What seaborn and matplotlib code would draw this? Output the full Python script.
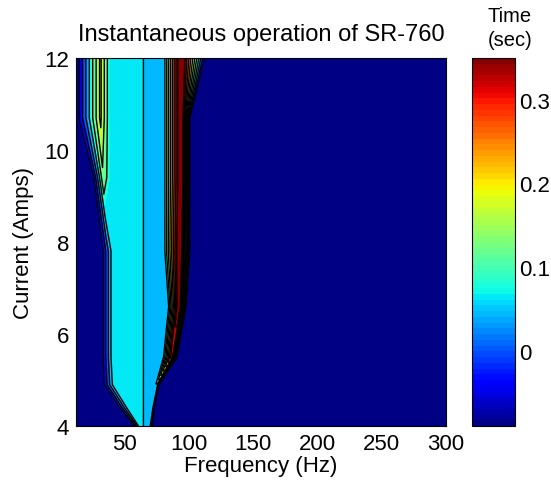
import numpy as np
import matplotlib
matplotlib.use("Agg")
import matplotlib.pyplot as plt
import seaborn as sns

sns.set_style("white")
plt.rcParams['font.family'] = ['Liberation Sans', 'DejaVu Sans']
plt.rcParams['text.color'] = 'black'
plt.rcParams['axes.labelcolor'] = 'black'
plt.rcParams['xtick.color'] = 'black'
plt.rcParams['ytick.color'] = 'black'

# Current levels (rows of the measurement grid)
current = np.array([4.0, 4.4, 4.9, 5.5, 6.6, 7.8, 9.4, 10.7, 12.0])

# Frequencies (Hz) where the response changes, for each current level
f_blue_end = np.array([57, 45, 33, 32, 32, 32, 25, 13, 13])
f_left_peak = np.array([59, 48.5, 37, 36, 36, 36, 33, 31, 31])
f_cyan_start = np.array([61, 52, 41, 40, 40, 40, 38.5, 38, 38])
f_step_lo = np.full(9, 63.0)
f_step_hi = np.full(9, 65.0)
f_rise_start = np.array([66, 69, 72, 80, 84, 81, 81, 81, 81])
f_peak_lo = np.array([67.5, 70.5, 74, 86, 91, 91, 92, 92, 92])
f_peak_hi = np.array([69, 71.5, 75, 87, 93, 94, 95, 95, 96])
f_blue_start = np.array([72, 73, 77, 91, 98, 101, 101, 101, 113])
f_min, f_max = 12.0, 300.0

# Operating times (sec)
t_min = -0.09
t_cyan = 0.064
t_light = 0.045
t_left_peak = np.array([-0.013, -0.013, -0.013, -0.013, -0.013, -0.013, 0.12, 0.18, 0.18])
t_right_peak = np.array([0.045, 0.045, 0.045, 0.3, 0.35, 0.35, 0.35, 0.35, 0.35])

n = len(current)
X = np.column_stack([np.full(n, f_min), f_blue_end, f_left_peak, f_cyan_start,
                     f_step_lo, f_step_hi, f_rise_start, f_peak_lo, f_peak_hi,
                     f_blue_start, np.full(n, f_max)])
Z = np.column_stack([np.full(n, t_min), np.full(n, t_min), t_left_peak,
                     np.full(n, t_cyan), np.full(n, t_cyan), np.full(n, t_light),
                     np.full(n, t_light), t_right_peak, t_right_peak,
                     np.full(n, t_min), np.full(n, t_min)])
Y = np.repeat(current[:, None], X.shape[1], axis=1)

fig = plt.figure(figsize=(5.51, 4.85), dpi=100)
ax = fig.add_axes([76 / 551, 58 / 485, 370 / 551, 368 / 485])
cax = fig.add_axes([472 / 551, 58 / 485, 43 / 551, 368 / 485])

# filled surface (jet, 64 colours) + black contour lines
fill_levels = np.linspace(-0.09, 0.35, 65)
cs = ax.contourf(X, Y, Z, levels=fill_levels, cmap='jet')
cs.set_edgecolor('face')
cs.set_linewidth(0.3)
line_levels = np.arange(-0.07, 0.35, 0.04)
ax.contour(X, Y, Z, levels=line_levels, colors='k', linewidths=1.0,
           linestyles='solid', negative_linestyles='solid')

ax.set_xlim(f_min, f_max)
ax.set_ylim(4, 12)
ax.set_xticks([50, 100, 150, 200, 250, 300])
ax.set_yticks([4, 6, 8, 10, 12])
ax.tick_params(direction='in', length=4, labelsize=16, colors='black', pad=5)
for s in ax.spines.values():
    s.set_color('black')
    s.set_linewidth(0.8)

ax.set_title("Instantaneous operation of SR-760", fontsize=17, pad=13, color='black')
ax.set_xlabel("Frequency (Hz)", fontsize=16, labelpad=1)
ax.set_ylabel("Current (Amps)", fontsize=16, labelpad=7)

cb = fig.colorbar(cs, cax=cax, ticks=[0, 0.1, 0.2, 0.3], format='%g')
cb.outline.set_edgecolor('black')
cb.outline.set_linewidth(0.8)
cax.tick_params(direction='in', length=4, labelsize=16, pad=3, colors='black')
fig.text(510 / 551, 1 - 16 / 485, "Time", ha='center', va='center', fontsize=14.5)
fig.text(510 / 551, 1 - 40 / 485, "(sec)", ha='center', va='center', fontsize=14.5)

fig.savefig("out.png", dpi=100)
